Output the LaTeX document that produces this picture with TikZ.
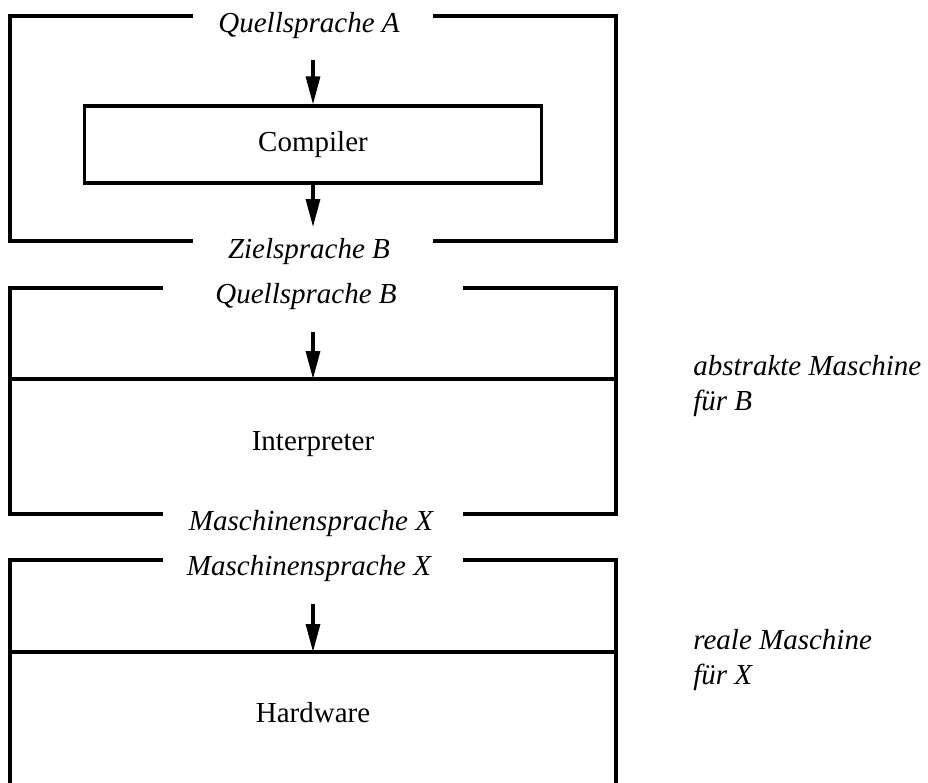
\documentclass[tikz,border=0pt]{standalone}
\usepackage{fontspec}
\setmainfont{Liberation Serif}
\usetikzlibrary{arrows.meta}

\begin{document}
\begin{tikzpicture}[x=0.5pt,y=-0.5pt,
    frame/.style={line width=1.6pt},
    arr/.style={line width=1.6pt,-{Triangle[length=14pt,width=7pt]}},
    lang/.style={font=\fontsize{14.5}{17.5}\selectfont\itshape,anchor=base,inner sep=0pt},
    part/.style={font=\fontsize{14.5}{17.5}\selectfont,inner sep=0pt},
    side/.style={font=\fontsize{14.5}{17.5}\selectfont\itshape,anchor=base west,align=left,inner sep=0pt}]
  % page = 928 x 783 px, coordinates in px (y downwards)
  \useasboundingbox (0,0) rectangle (928,783);
  \clip (0,0) rectangle (928,783);

  % compiler: Quellsprache A -> Zielsprache B
  \draw[frame] (193,16) -| (10,241) -- (193,241);
  \draw[frame] (433,16) -| (616,241) -- (433,241);
  \node[lang] (qa) at (309,32) {Quellsprache A};
  \node[part,draw,line width=1.6pt,minimum width=228.5pt,minimum height=38.5pt] (comp) at (313,144.5) {Compiler};
  \node[lang] (zb) at (309,258) {Zielsprache B};
  \coordinate (in1) at (313,60);
  \coordinate (out1) at (313,227);
  \draw[arr] (in1) -- (comp.north);
  \draw[arr] (comp.south) -- (out1);

  % interpreter = abstrakte Maschine fuer B
  \draw[frame] (163,288) -| (10,514) -- (163,514);
  \draw[frame] (463,288) -| (616,514) -- (463,514);
  \coordinate (div2l) at (10,379);
  \coordinate (div2r) at (616,379);
  \draw[frame] (div2l) -- (div2r);
  \node[lang] (qb) at (306,303) {Quellsprache B};
  \node[part] (interp) at (313,444) {Interpreter};
  \node[lang] (mx1) at (311,530) {Maschinensprache X};
  \coordinate (in2) at (313,332);
  \coordinate (hit2) at (313,379);
  \draw[arr] (in2) -- (hit2);
  % base = baseline of the last line
  \node[side] (absM) at (693,410) {abstrakte Maschine\\f\"ur B};

  % hardware = reale Maschine fuer X (cut off at the bottom)
  \draw[frame] (163,560) -| (10,800);
  \draw[frame] (463,560) -| (616,800);
  \coordinate (div3l) at (10,652);
  \coordinate (div3r) at (616,652);
  \draw[frame] (div3l) -- (div3r);
  \node[lang] (mx2) at (309,575) {Maschinensprache X};
  \node[part] (hw) at (313,713) {Hardware};
  \coordinate (in3) at (313,604);
  \coordinate (hit3) at (313,652);
  \draw[arr] (in3) -- (hit3);
  \node[side] (realM) at (693,684) {reale Maschine\\f\"ur X};
\end{tikzpicture}
\end{document}
